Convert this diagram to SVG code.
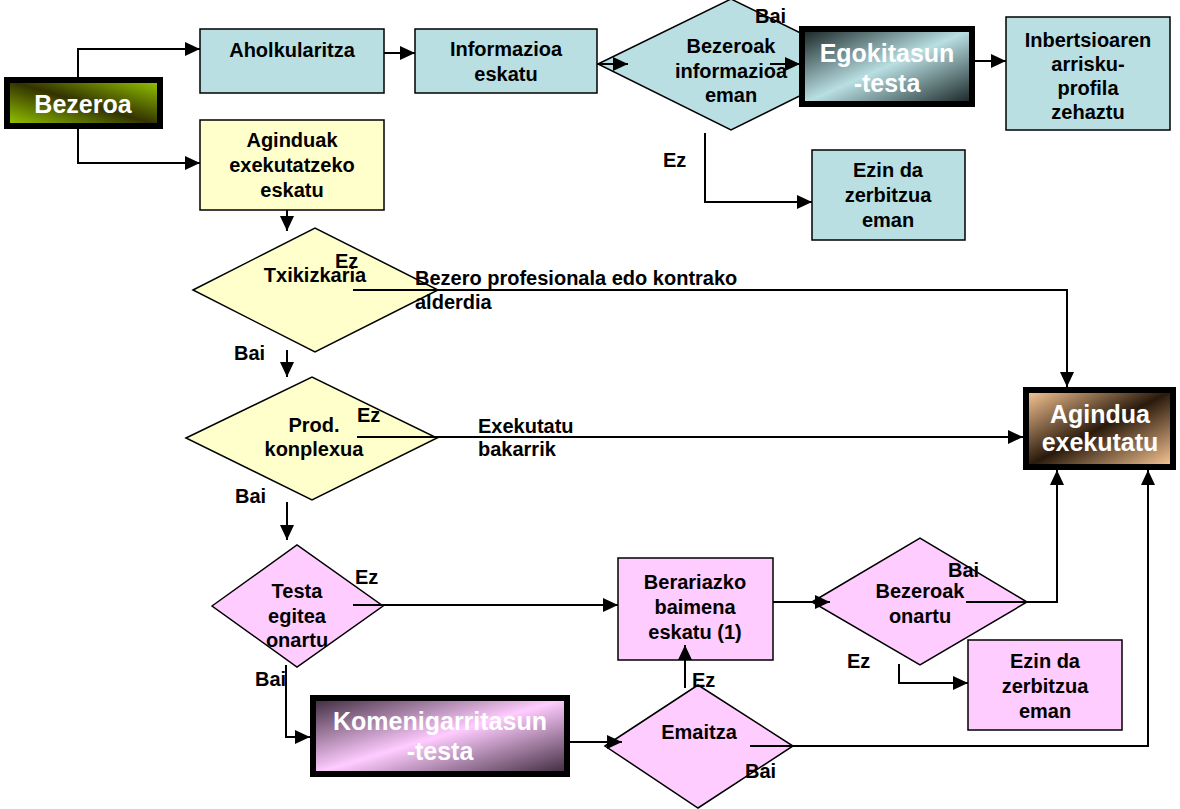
<svg xmlns="http://www.w3.org/2000/svg" width="1180" height="809" viewBox="0 0 1180 809">
<defs>
<style>
text{font-family:"Liberation Sans",Arial,sans-serif;font-weight:bold;fill:#000;}
.t{font-size:20px;text-anchor:middle;}
.l{font-size:20px;}
.w{font-size:25px;text-anchor:middle;fill:#fff;}
.teal{fill:#B9DFE3;stroke:#000;stroke-width:1.5;}
.yel{fill:#FFFFCC;stroke:#000;stroke-width:1.5;}
.pink{fill:#FFCCFF;stroke:#000;stroke-width:1.5;}
.thick{stroke:#000;stroke-width:6;}
.c{fill:none;stroke:#000;stroke-width:2;}
.a{marker-end:url(#ah);}
</style>
<marker id="ah" markerUnits="userSpaceOnUse" markerWidth="16" markerHeight="14" refX="15" refY="7" orient="auto">
<path d="M0,0 L15,7 L0,14 z" fill="#000"/>
</marker>
<linearGradient id="gGreen" x1="0" y1="1" x2="1" y2="0">
<stop offset="0" stop-color="#99CC00"/><stop offset="0.5" stop-color="#333300"/><stop offset="1" stop-color="#99CC00"/>
</linearGradient>
<linearGradient id="gTeal" x1="0" y1="0" x2="1" y2="1">
<stop offset="0" stop-color="#142020"/><stop offset="0.5" stop-color="#B9DFE3"/><stop offset="1" stop-color="#142020"/>
</linearGradient>
<linearGradient id="gPeach" x1="0" y1="0" x2="1" y2="1">
<stop offset="0" stop-color="#FFCC99"/><stop offset="0.5" stop-color="#2A1A0C"/><stop offset="1" stop-color="#FFCC99"/>
</linearGradient>
<linearGradient id="gPink" x1="0" y1="0" x2="1" y2="1">
<stop offset="0" stop-color="#3A283A"/><stop offset="0.5" stop-color="#FFCCFF"/><stop offset="1" stop-color="#3A283A"/>
</linearGradient>
</defs>

<g id="bezeroa">
<rect x="7" y="80" width="153" height="46" fill="url(#gGreen)" class="thick"/>
<text class="w" x="83" y="113">Bezeroa</text>
</g>
<g id="aholkularitza">
<rect x="200" y="29" width="184" height="64" class="teal"/>
<text class="t" x="292" y="57">Aholkularitza</text>
</g>
<g id="informazioa-eskatu">
<rect x="415" y="29" width="182" height="64" class="teal"/>
<text class="t" x="506" y="56">Informazioa</text>
<text class="t" x="506" y="81">eskatu</text>
</g>
<g id="bezeroak-informazioa">
<polygon points="598,64 731,-1 864,64 731,130" class="teal"/>
<text class="t" x="731" y="53">Bezeroak</text>
<text class="t" x="731" y="78">informazioa</text>
<text class="t" x="731" y="102">eman</text>
</g>
<g id="egokitasun-testa">
<rect x="802" y="29" width="170" height="75" fill="url(#gTeal)" class="thick"/>
<text class="w" x="887" y="62">Egokitasun</text>
<text class="w" x="887" y="92">-testa</text>
</g>
<g id="inbertsioaren">
<rect x="1006" y="17" width="164" height="113" class="teal"/>
<text class="t" x="1088" y="47">Inbertsioaren</text>
<text class="t" x="1088" y="71">arrisku-</text>
<text class="t" x="1088" y="95">profila</text>
<text class="t" x="1088" y="119">zehaztu</text>
</g>
<g id="ezin-teal">
<rect x="812" y="150" width="153" height="90" class="teal"/>
<text class="t" x="888" y="177">Ezin da</text>
<text class="t" x="888" y="202">zerbitzua</text>
<text class="t" x="888" y="227">eman</text>
</g>
<g id="aginduak">
<rect x="200" y="120" width="184" height="90" class="yel"/>
<text class="t" x="292" y="147">Aginduak</text>
<text class="t" x="292" y="172">exekutatzeko</text>
<text class="t" x="292" y="197">eskatu</text>
</g>
<g id="txikizkaria">
<polygon points="193,290 315,228 438,290 315,352" class="yel"/>
<text class="t" x="315" y="282">Txikizkaria</text>
</g>
<g id="prod-konplexua">
<polygon points="186,438 312,377 437,438 312,500" class="yel"/>
<text class="t" x="314" y="432">Prod.</text>
<text class="t" x="314" y="456">konplexua</text>
</g>
<g id="agindua-exekutatu">
<rect x="1026" y="390" width="147" height="77" fill="url(#gPeach)" class="thick"/>
<text class="w" x="1100" y="423">Agindua</text>
<text class="w" x="1100" y="451">exekutatu</text>
</g>
<g id="testa-egitea">
<polygon points="212,606 297,545 383,606 297,667" class="pink"/>
<text class="t" x="297" y="598">Testa</text>
<text class="t" x="297" y="623">egitea</text>
<text class="t" x="297" y="647">onartu</text>
</g>
<g id="komenigarritasun">
<rect x="313" y="698" width="254" height="76" fill="url(#gPink)" class="thick"/>
<text class="w" x="440" y="730">Komenigarritasun</text>
<text class="w" x="440" y="760">-testa</text>
</g>
<g id="berariazko">
<rect x="618" y="558" width="155" height="102" class="pink"/>
<text class="t" x="695" y="589">Berariazko</text>
<text class="t" x="695" y="614">baimena</text>
<text class="t" x="695" y="639">eskatu (1)</text>
</g>
<g id="bezeroak-onartu">
<polygon points="812,602 920,538 1027,602 920,665" class="pink"/>
<text class="t" x="920" y="598">Bezeroak</text>
<text class="t" x="920" y="623">onartu</text>
</g>
<g id="ezin-pink">
<rect x="968" y="640" width="154" height="90" class="pink"/>
<text class="t" x="1045" y="668">Ezin da</text>
<text class="t" x="1045" y="693">zerbitzua</text>
<text class="t" x="1045" y="718">eman</text>
</g>
<g id="emaitza">
<polygon points="605,746 698,685 793,746 698,808" class="pink"/>
<text class="t" x="699" y="739">Emaitza</text>
</g>

<g id="connectors">
<path class="c a" d="M78,77 V49 H200"/>
<path class="c a" d="M78,129 V163 H200"/>
<path class="c a" d="M384,53 H415"/>
<path class="c a" d="M597,64 H628"/>
<path class="c a" d="M770,64 H800"/>
<path class="c a" d="M975,61 H1006"/>
<path class="c a" d="M705,133 V202 H812"/>
<path class="c a" d="M287,210 V231"/>
<path class="c a" d="M353,290 H1067 V387"/>
<path class="c a" d="M287,350 V377"/>
<path class="c a" d="M357,437 H1023"/>
<path class="c a" d="M287,502 V540"/>
<path class="c a" d="M353,605 H618"/>
<path class="c a" d="M286,665 V737 H310"/>
<path class="c a" d="M567,742 H622"/>
<path class="c a" d="M750,746 H1148 V470"/>
<path class="c a" d="M685,688 V645"/>
<path class="c a" d="M773,602 H830"/>
<path class="c a" d="M966,602 H1057 V470"/>
<path class="c a" d="M899,664 V683 H968"/>
</g>

<g id="labels">
<text class="l" x="755" y="23">Bai</text>
<text class="l" x="663" y="167">Ez</text>
<text class="l" x="335" y="268">Ez</text>
<text class="l" x="415" y="285">Bezero profesionala edo kontrako</text>
<text class="l" x="415" y="309">alderdia</text>
<text class="l" x="234" y="360">Bai</text>
<text class="l" x="357" y="422">Ez</text>
<text class="l" x="478" y="433">Exekutatu</text>
<text class="l" x="478" y="456">bakarrik</text>
<text class="l" x="235" y="503">Bai</text>
<text class="l" x="355" y="584">Ez</text>
<text class="l" x="255" y="686">Bai</text>
<text class="l" x="948" y="577">Bai</text>
<text class="l" x="847" y="668">Ez</text>
<text class="l" x="692" y="687">Ez</text>
<text class="l" x="745" y="778">Bai</text>
</g>
</svg>
